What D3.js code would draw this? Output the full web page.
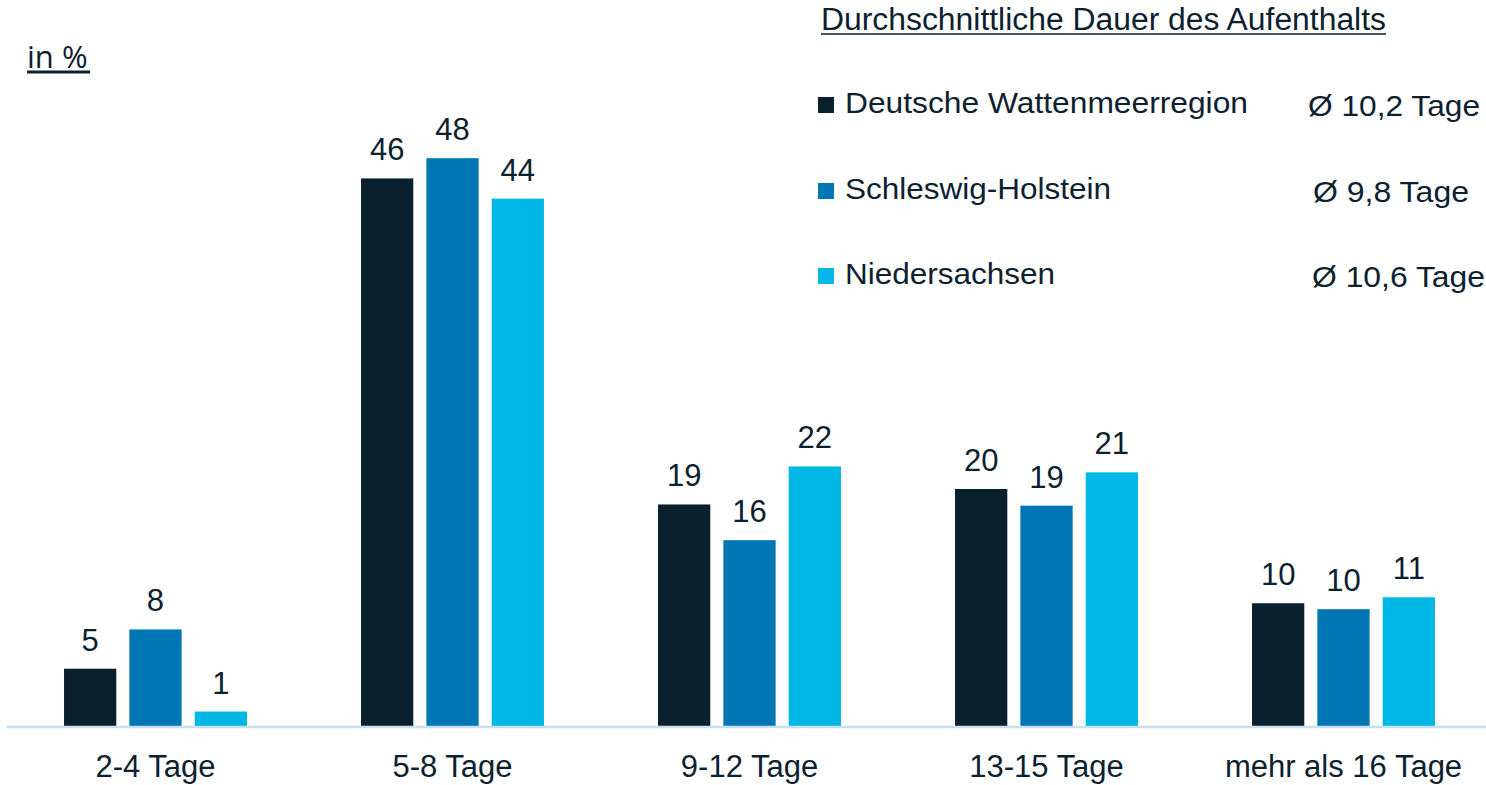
<!DOCTYPE html>
<html>
<head>
<meta charset="utf-8">
<script src="https://cdn.jsdelivr.net/npm/d3@7"></script>
<style>
  html, body { margin: 0; padding: 0; background: #ffffff; }
  svg { display: block; }
</style>
</head>
<body>
<svg id="chart" width="1486" height="785"></svg>
<script>
// ---- data ----
const categories = ["2-4 Tage", "5-8 Tage", "9-12 Tage", "13-15 Tage", "mehr als 16 Tage"];
const seriesNames = ["Deutsche Wattenmeerregion", "Schleswig-Holstein", "Niedersachsen"];
const wattenmeer = [4.9, 46.1, 18.7, 20.0, 10.4];
const schleswigHolstein = [8.2, 47.8, 15.7, 18.6, 9.9];
const niedersachsen = [1.3, 44.4, 21.9, 21.4, 10.9];
const averages = ["Ø 10,2 Tage", "Ø 9,8 Tage", "Ø 10,6 Tage"];
const titleText = "Durchschnittliche Dauer des Aufenthalts";
const unitText = "in %";

const seriesValues = [wattenmeer, schleswigHolstein, niedersachsen];
const colors = ["#0a202c", "#0077b4", "#00b7e5"];
const textColor = "#0b2130";
const font = "'Liberation Sans', Arial, sans-serif";

const svg = d3.select("#chart");

const baseY = 727;
const x0 = d3.scaleBand().domain(categories).range([7, 1492]).paddingInner(0.384).paddingOuter(0.192);
const x1 = d3.scaleBand().domain(seriesNames).range([0, x0.bandwidth()]).paddingInner(0.2).paddingOuter(0);
const y = d3.scaleLinear().domain([0, 50]).range([baseY, baseY - 595]);

// bars
const groups = svg.append("g").selectAll("g")
  .data(categories)
  .join("g")
  .attr("transform", c => `translate(${x0(c)},0)`);

groups.selectAll("rect")
  .data((c, i) => seriesNames.map((s, k) => ({ s, k, v: seriesValues[k][i] })))
  .join("rect")
  .attr("x", d => x1(d.s))
  .attr("width", x1.bandwidth())
  .attr("y", d => y(d.v))
  .attr("height", d => y(0) - y(d.v))
  .attr("fill", d => colors[d.k]);

groups.selectAll("text.val")
  .data((c, i) => seriesNames.map((s, k) => ({ s, k, v: seriesValues[k][i] })))
  .join("text")
  .attr("class", "val")
  .attr("x", d => x1(d.s) + x1.bandwidth() / 2)
  .attr("y", d => y(d.v) - 18)
  .attr("text-anchor", "middle")
  .attr("font-family", font)
  .attr("font-size", 31)
  .attr("fill", textColor)
  .text(d => Math.round(d.v));

// x axis
const xAxis = svg.append("g")
  .attr("transform", `translate(0,${baseY})`)
  .call(d3.axisBottom(x0).tickSize(0).tickSizeOuter(0));
xAxis.select(".domain").attr("stroke", "#c6e0f1").attr("stroke-width", 2.5)
  .attr("d", "M7,0H1486");
xAxis.selectAll(".tick text")
  .attr("y", 50)
  .attr("dy", 0)
  .attr("font-family", font)
  .attr("font-size", 31)
  .attr("fill", textColor);

// unit label
svg.append("text")
  .attr("x", 27).attr("y", 68)
  .attr("font-family", "'Open Sans', sans-serif")
  .attr("font-size", 31)
  .attr("fill", textColor)
  .text(unitText);
svg.append("line").attr("x1", 27).attr("x2", 90).attr("y1", 72).attr("y2", 72)
  .attr("stroke", textColor).attr("stroke-width", 3);

// title
svg.append("text")
  .attr("x", 821).attr("y", 30)
  .attr("font-family", font)
  .attr("font-size", 31)
  .attr("textLength", 565).attr("lengthAdjust", "spacingAndGlyphs")
  .attr("fill", textColor)
  .text(titleText);
svg.append("line").attr("x1", 821).attr("x2", 1386).attr("y1", 34).attr("y2", 34)
  .attr("stroke", textColor).attr("stroke-width", 1.5);

// legend
const legendBase = [113, 199, 284];
const legendLen = [403, 266, 210];
const avgX = [1308, 1313, 1312];
const avgLen = [172, 156, 173];
const legend = svg.append("g");
seriesNames.forEach((s, k) => {
  legend.append("rect")
    .attr("x", 818).attr("y", legendBase[k] - 16)
    .attr("width", 16).attr("height", 16)
    .attr("fill", colors[k]);
  legend.append("text")
    .attr("x", 845).attr("y", legendBase[k])
    .attr("font-family", font).attr("font-size", 30)
    .attr("textLength", legendLen[k]).attr("lengthAdjust", "spacingAndGlyphs")
    .attr("fill", textColor)
    .text(s);
  legend.append("text")
    .attr("x", avgX[k]).attr("y", legendBase[k] + 3)
    .attr("font-family", font).attr("font-size", 30)
    .attr("textLength", avgLen[k]).attr("lengthAdjust", "spacingAndGlyphs")
    .attr("fill", textColor)
    .text(averages[k]);
});
</script>
</body>
</html>
